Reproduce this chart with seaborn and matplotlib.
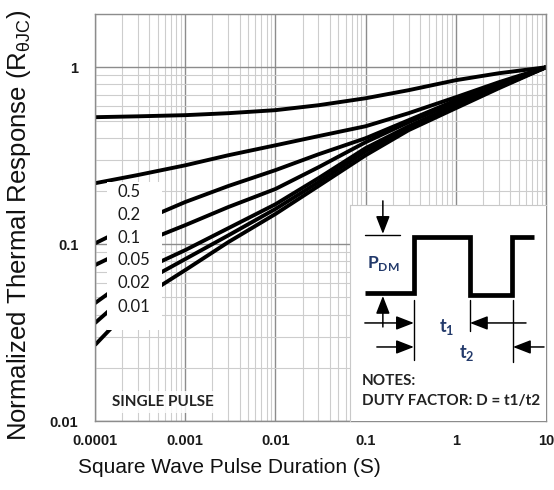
import numpy as np
import pandas as pd
import matplotlib
matplotlib.use("Agg")
import matplotlib.pyplot as plt
import matplotlib.ticker as mticker
from matplotlib.patches import Rectangle
import seaborn as sns

# -----------------------------------------------------
# DATA
# -----------------------------------------------------

duration = [1e-4, 3e-4, 1e-3, 3e-3, 1e-2, 3e-2, 0.1, 0.3, 1, 3, 10]

duty_order = ["0.5", "0.2", "0.1", "0.05", "0.02", "0.01", "single"]

z_d05 = [0.522, 0.528, 0.536, 0.550, 0.572, 0.610, 0.668, 0.742, 0.845, 0.925, 1.0]
z_d02 = [0.221, 0.246, 0.279, 0.318, 0.362, 0.408, 0.464, 0.550, 0.677, 0.823, 1.0]
z_d01 = [0.101, 0.133, 0.173, 0.213, 0.262, 0.322, 0.397, 0.502, 0.651, 0.802, 1.0]
z_d005 = [0.0761, 0.100, 0.128, 0.162, 0.205, 0.272, 0.377, 0.489, 0.634, 0.791, 1.0]
z_d002 = [0.0464, 0.0695, 0.0925, 0.123, 0.168, 0.236, 0.349, 0.464, 0.610, 0.781, 1.0]
z_d001 = [0.0358, 0.0587, 0.0823, 0.112, 0.158, 0.224, 0.335, 0.452, 0.602, 0.771, 1.0]
z_single = [0.0269, 0.0483, 0.0713, 0.1026, 0.148, 0.213, 0.318, 0.441, 0.587, 0.761, 1.0]

curves = [z_d05, z_d02, z_d01, z_d005, z_d002, z_d001, z_single]

x_ticks = [1e-4, 1e-3, 1e-2, 1e-1, 1, 10]
x_tick_labels = ["0.0001", "0.001", "0.01", "0.1", "1", "10"]
y_ticks = [0.01, 0.1, 1]
y_tick_labels = ["0.01", "0.1", "1"]

duty_text = ["0.5", "0.2", "0.1", "0.05", "0.02", "0.01"]

# long-form table for seaborn
df = pd.DataFrame({
    "duration": duration * len(curves),
    "response": [v for c in curves for v in c],
    "duty": [d for d in duty_order for _ in duration],
})

# -----------------------------------------------------
# FIGURE
# -----------------------------------------------------

sns.set_theme(style="white")
plt.rcParams["font.family"] = ["Liberation Sans", "DejaVu Sans"]

fig = plt.figure(figsize=(5.54, 4.90), dpi=100)
ax = fig.add_axes([0.1715, 0.1408, 0.8141, 0.8306])

sns.lineplot(
    data=df, x="duration", y="response", hue="duty",
    hue_order=duty_order, palette=["black"] * len(duty_order),
    estimator=None, legend=False, linewidth=2.8, ax=ax,
)
for ln in ax.lines:
    ln.set_solid_capstyle("butt")

ax.set_xscale("log")
ax.set_yscale("log")
ax.set_xlim(1e-4, 10)
ax.set_ylim(0.01, 2)

ax.xaxis.set_minor_locator(mticker.LogLocator(base=10, subs=range(2, 10), numticks=20))
ax.yaxis.set_minor_locator(mticker.LogLocator(base=10, subs=range(2, 10), numticks=20))
ax.xaxis.set_minor_formatter(mticker.NullFormatter())
ax.yaxis.set_minor_formatter(mticker.NullFormatter())
ax.set_xticks(x_ticks)
ax.set_xticklabels(x_tick_labels)
ax.set_yticks(y_ticks)
ax.set_yticklabels(y_tick_labels)

ax.set_axisbelow(True)
ax.grid(which="major", color="#8c8c8c", linewidth=1.0)
ax.grid(which="minor", color="#cdcdcd", linewidth=0.8)

ax.tick_params(which="both", length=0)
ax.tick_params(axis="x", pad=9, labelsize=10.5, labelcolor="#1a1a1a")
ax.tick_params(axis="y", pad=12, labelsize=10.5, labelcolor="#1a1a1a")
for lab in ax.get_xticklabels() + ax.get_yticklabels():
    lab.set_fontweight("bold")

for sp in ax.spines.values():
    sp.set_color("#8c8c8c")
    sp.set_linewidth(1.0)

ax.set_xlabel("Square Wave Pulse Duration (S)", fontsize=15, color="#111111")
ax.xaxis.set_label_coords(0.297, -0.09)
ax.set_ylabel(r"Normalized Thermal Response (R$_{\mathregular{θJC}}$)",
              fontsize=18.5, color="#111111")
ax.yaxis.set_label_coords(-0.138, 0.48)

# -----------------------------------------------------
# DUTY LABEL BOX
# -----------------------------------------------------

ax.add_patch(Rectangle((0.027, 0.224), 0.122, 0.364, transform=ax.transAxes,
                       facecolor="white", edgecolor="none", zorder=3))
label_y = [0.563, 0.506, 0.450, 0.396, 0.339, 0.280]
for txt, yy in zip(duty_text, label_y):
    ax.text(0.050, yy, txt, transform=ax.transAxes, ha="left", va="center",
            fontsize=12, family="Lato", color="#1a1a1a", zorder=4)

ax.text(0.151, 0.047, "SINGLE PULSE", transform=ax.transAxes, ha="center",
        va="center", fontsize=11, family="Lato", fontweight="bold",
        color="#222222", zorder=4,
        bbox=dict(facecolor="white", edgecolor="none", alpha=0.85, pad=3))

# -----------------------------------------------------
# INSET: PULSE DIAGRAM (drawn in a 196 x 216 sketch box)
# -----------------------------------------------------

ins = ax.inset_axes([0.565, 0.0, 0.435, 0.531])
ins.set_facecolor("white")
ins.set_xlim(0, 196)
ins.set_ylim(216, 0)
ins.set_xticks([])
ins.set_yticks([])
for sp in ins.spines.values():
    sp.set_color("#c8c8c8")
    sp.set_linewidth(0.8)
ins.spines["right"].set_visible(False)
ins.spines["bottom"].set_visible(False)

wave_x = [15, 64, 64, 120, 120, 162, 162, 184]
wave_y = [88, 88, 32, 32, 90, 90, 32, 32]
ins.plot(wave_x, wave_y, color="black", linewidth=3.4,
         solid_joinstyle="miter", solid_capstyle="butt")

thin = dict(color="black", linewidth=1.0)
ins.plot([15, 50], [30, 30], **thin)
ins.plot([64, 64], [95, 155], **thin)
ins.plot([120, 120], [95, 126], **thin)
ins.plot([163, 163], [95, 157], **thin)

head = dict(arrowstyle="-|>,head_length=0.9,head_width=0.35", color="black",
            lw=1.1, shrinkA=0, shrinkB=0)
ins.annotate("", xy=(33, 29), xytext=(33, -4), arrowprops=head, annotation_clip=False)
ins.annotate("", xy=(33, 91), xytext=(33, 122), arrowprops=head)
ins.annotate("", xy=(64, 118), xytext=(15, 118), arrowprops=head)
ins.annotate("", xy=(120, 118), xytext=(176, 118), arrowprops=head)
ins.annotate("", xy=(64, 142), xytext=(27, 142), arrowprops=head)
ins.annotate("", xy=(163, 142), xytext=(194, 142), arrowprops=head)

navy = "#233a6b"
ins.text(17, 59, r"P$_{\mathregular{DM}}$", ha="left", va="center", fontsize=12.5,
         family="Lato", fontweight="bold", color=navy)
ins.text(89, 122, r"t$_{\mathregular{1}}$", ha="left", va="center", fontsize=13,
         family="Lato", fontweight="bold", color=navy)
ins.text(109, 148, r"t$_{\mathregular{2}}$", ha="left", va="center", fontsize=13,
         family="Lato", fontweight="bold", color=navy)

ins.text(12, 176, "NOTES:", ha="left", va="center", fontsize=11,
         family="Lato", fontweight="bold", color="#222222")
ins.text(12, 196, "DUTY FACTOR: D = t1/t2", ha="left", va="center", fontsize=11,
         family="Lato", fontweight="bold", color="#222222")

fig.savefig("out.png", dpi=100, facecolor="white")
